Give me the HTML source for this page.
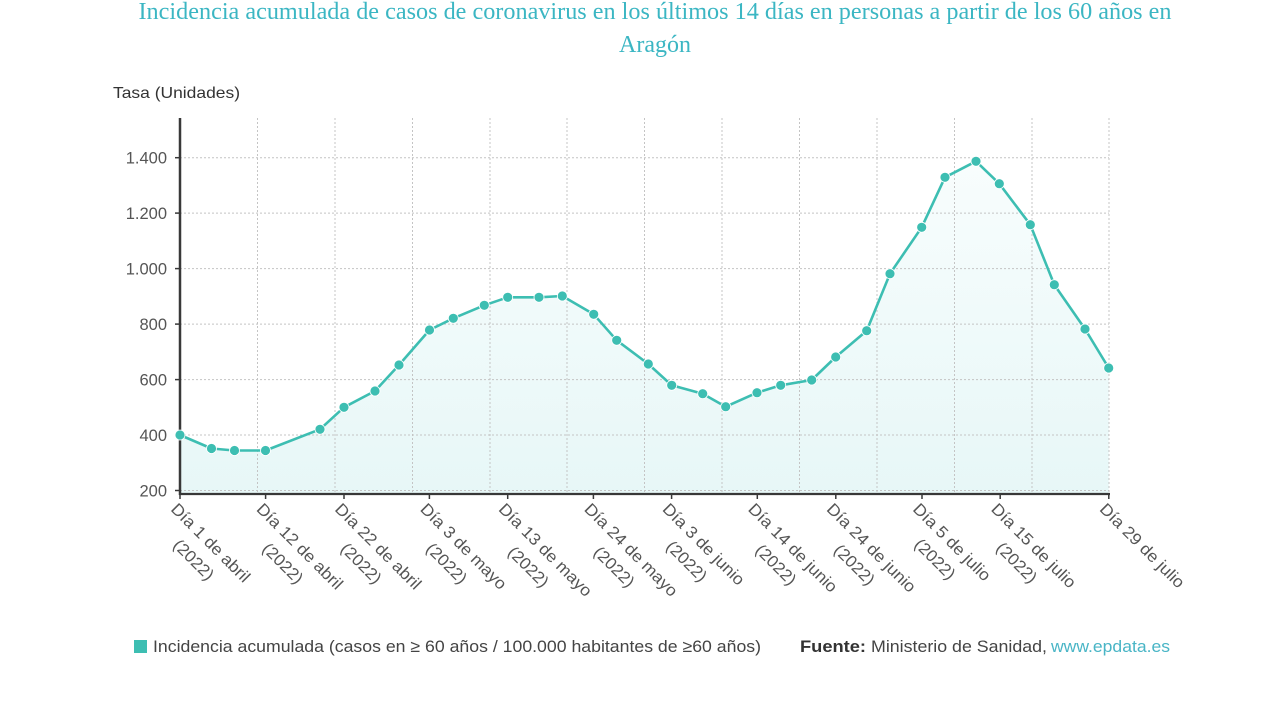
<!DOCTYPE html>
<html>
<head>
<meta charset="utf-8">
<style>
  html,body{margin:0;padding:0;background:#fff;}
  svg{display:block;}
  text{font-family:"Liberation Sans",Arial,sans-serif;}
</style>
</head>
<body>
<svg width="1280" height="720" viewBox="0 0 1280 720" xmlns="http://www.w3.org/2000/svg">
  <defs>
    <linearGradient id="ag" gradientUnits="userSpaceOnUse" x1="0" y1="160" x2="0" y2="494">
      <stop offset="0" stop-color="#f8fdfd"/>
      <stop offset="1" stop-color="#e7f7f7"/>
    </linearGradient>
  </defs>
  <rect width="1280" height="720" fill="#fff"/>

  <!-- Title -->
  <text x="655" y="19" text-anchor="middle" font-size="24" fill="#3bb6c3" textLength="1033" lengthAdjust="spacingAndGlyphs" style="font-family:'Liberation Serif',serif">Incidencia acumulada de casos de coronavirus en los últimos 14 días en personas a partir de los 60 años en</text>
  <text x="655" y="52" text-anchor="middle" font-size="24" fill="#3bb6c3" textLength="72" lengthAdjust="spacingAndGlyphs" style="font-family:'Liberation Serif',serif">Aragón</text>

  <!-- Axis title -->
  <text x="113" y="98" font-size="16" fill="#333" textLength="127" lengthAdjust="spacingAndGlyphs">Tasa (Unidades)</text>

  <!-- Area fill -->
  <polygon fill="url(#ag)" points="180,494 180,435 211.5,448.5 234.5,450.5 265.5,450.5 320,429.3 344,407.3 375,391 399,365 429.5,330 453.3,318.3 484.3,305.3 507.7,297.3 539,297.3 562.3,296 593.7,314.3 616.7,340.3 648.3,364 671.7,385.3 702.7,393.7 725.7,406.7 757,392.7 780.7,385.3 811.7,380 835.7,357 866.7,330.7 890,273.7 921.7,227.3 945,177.3 976,161.3 999.3,183.7 1030.3,224.7 1054.3,284.7 1085,329 1108.7,368 1108.7,494"/>

  <!-- Grid -->
  <g stroke="#c4c4c4" stroke-width="1" stroke-dasharray="2,2" fill="none">
    <line x1="180" y1="490.5" x2="1109" y2="490.5"/>
    <line x1="180" y1="435" x2="1109" y2="435"/>
    <line x1="180" y1="379.6" x2="1109" y2="379.6"/>
    <line x1="180" y1="324.1" x2="1109" y2="324.1"/>
    <line x1="180" y1="268.6" x2="1109" y2="268.6"/>
    <line x1="180" y1="213.1" x2="1109" y2="213.1"/>
    <line x1="180" y1="157.7" x2="1109" y2="157.7"/>
    <line x1="257.5" y1="118" x2="257.5" y2="493"/>
    <line x1="335" y1="118" x2="335" y2="493"/>
    <line x1="412.5" y1="118" x2="412.5" y2="493"/>
    <line x1="490" y1="118" x2="490" y2="493"/>
    <line x1="567" y1="118" x2="567" y2="493"/>
    <line x1="644.5" y1="118" x2="644.5" y2="493"/>
    <line x1="722" y1="118" x2="722" y2="493"/>
    <line x1="799.5" y1="118" x2="799.5" y2="493"/>
    <line x1="877" y1="118" x2="877" y2="493"/>
    <line x1="954.5" y1="118" x2="954.5" y2="493"/>
    <line x1="1032" y1="118" x2="1032" y2="493"/>
    <line x1="1109" y1="118" x2="1109" y2="493"/>
  </g>

  <!-- Axes -->
  <line x1="180" y1="118" x2="180" y2="495" stroke="#383838" stroke-width="2.5"/>
  <line x1="179" y1="494" x2="1110" y2="494" stroke="#383838" stroke-width="2.2"/>
  <g stroke="#383838" stroke-width="1.5">
    <line x1="175" y1="490.5" x2="180" y2="490.5"/>
    <line x1="175" y1="435" x2="180" y2="435"/>
    <line x1="175" y1="379.6" x2="180" y2="379.6"/>
    <line x1="175" y1="324.1" x2="180" y2="324.1"/>
    <line x1="175" y1="268.6" x2="180" y2="268.6"/>
    <line x1="175" y1="213.1" x2="180" y2="213.1"/>
    <line x1="175" y1="157.7" x2="180" y2="157.7"/>
    <line x1="180" y1="494" x2="180" y2="499"/>
    <line x1="265.6" y1="494" x2="265.6" y2="499"/>
    <line x1="344" y1="494" x2="344" y2="499"/>
    <line x1="429.4" y1="494" x2="429.4" y2="499"/>
    <line x1="507.7" y1="494" x2="507.7" y2="499"/>
    <line x1="593.4" y1="494" x2="593.4" y2="499"/>
    <line x1="671.6" y1="494" x2="671.6" y2="499"/>
    <line x1="757.3" y1="494" x2="757.3" y2="499"/>
    <line x1="835.8" y1="494" x2="835.8" y2="499"/>
    <line x1="922" y1="494" x2="922" y2="499"/>
    <line x1="1000.2" y1="494" x2="1000.2" y2="499"/>
    <line x1="1108.8" y1="494" x2="1108.8" y2="499"/>
  </g>

  <!-- Y labels -->
  <g font-size="16.5" fill="#555" text-anchor="end">
    <text x="167" y="496.5">200</text>
    <text x="167" y="441">400</text>
    <text x="167" y="385.6">600</text>
    <text x="167" y="330.1">800</text>
    <text x="167" y="274.6">1.000</text>
    <text x="167" y="219.1">1.200</text>
    <text x="167" y="163.7">1.400</text>
  </g>

  <!-- X labels -->
  <g font-size="16.5" fill="#555" text-anchor="middle">
    <g transform="translate(170,510) rotate(45)">
      <text x="52" y="0" textLength="104" lengthAdjust="spacingAndGlyphs">Día 1 de abril</text>
      <text x="52" y="24" textLength="50" lengthAdjust="spacingAndGlyphs">(2022)</text>
    </g>
    <g transform="translate(255.6,510) rotate(45)">
      <text x="57" y="0" textLength="114" lengthAdjust="spacingAndGlyphs">Día 12 de abril</text>
      <text x="57" y="24" textLength="50" lengthAdjust="spacingAndGlyphs">(2022)</text>
    </g>
    <g transform="translate(334,510) rotate(45)">
      <text x="57" y="0" textLength="114" lengthAdjust="spacingAndGlyphs">Día 22 de abril</text>
      <text x="57" y="24" textLength="50" lengthAdjust="spacingAndGlyphs">(2022)</text>
    </g>
    <g transform="translate(419.4,510) rotate(45)">
      <text x="57" y="0" textLength="114" lengthAdjust="spacingAndGlyphs">Día 3 de mayo</text>
      <text x="57" y="24" textLength="50" lengthAdjust="spacingAndGlyphs">(2022)</text>
    </g>
    <g transform="translate(497.7,510) rotate(45)">
      <text x="62" y="0" textLength="124" lengthAdjust="spacingAndGlyphs">Día 13 de mayo</text>
      <text x="62" y="24" textLength="50" lengthAdjust="spacingAndGlyphs">(2022)</text>
    </g>
    <g transform="translate(583.4,510) rotate(45)">
      <text x="62" y="0" textLength="124" lengthAdjust="spacingAndGlyphs">Día 24 de mayo</text>
      <text x="62" y="24" textLength="50" lengthAdjust="spacingAndGlyphs">(2022)</text>
    </g>
    <g transform="translate(661.6,510) rotate(45)">
      <text x="54" y="0" textLength="108" lengthAdjust="spacingAndGlyphs">Día 3 de junio</text>
      <text x="54" y="24" textLength="50" lengthAdjust="spacingAndGlyphs">(2022)</text>
    </g>
    <g transform="translate(747.3,510) rotate(45)">
      <text x="59" y="0" textLength="118" lengthAdjust="spacingAndGlyphs">Día 14 de junio</text>
      <text x="59" y="24" textLength="50" lengthAdjust="spacingAndGlyphs">(2022)</text>
    </g>
    <g transform="translate(825.8,510) rotate(45)">
      <text x="59" y="0" textLength="118" lengthAdjust="spacingAndGlyphs">Día 24 de junio</text>
      <text x="59" y="24" textLength="50" lengthAdjust="spacingAndGlyphs">(2022)</text>
    </g>
    <g transform="translate(912,510) rotate(45)">
      <text x="51" y="0" textLength="102" lengthAdjust="spacingAndGlyphs">Día 5 de julio</text>
      <text x="51" y="24" textLength="50" lengthAdjust="spacingAndGlyphs">(2022)</text>
    </g>
    <g transform="translate(990.2,510) rotate(45)">
      <text x="56" y="0" textLength="112" lengthAdjust="spacingAndGlyphs">Día 15 de julio</text>
      <text x="56" y="24" textLength="50" lengthAdjust="spacingAndGlyphs">(2022)</text>
    </g>
    <g transform="translate(1098.8,510) rotate(45)">
      <text x="56" y="0" textLength="112" lengthAdjust="spacingAndGlyphs">Día 29 de julio</text>
    </g>
  </g>

  <!-- Series line -->
  <polyline fill="none" stroke="#3dbeb2" stroke-width="2.6" stroke-linejoin="round" points="180,435 211.5,448.5 234.5,450.5 265.5,450.5 320,429.3 344,407.3 375,391 399,365 429.5,330 453.3,318.3 484.3,305.3 507.7,297.3 539,297.3 562.3,296 593.7,314.3 616.7,340.3 648.3,364 671.7,385.3 702.7,393.7 725.7,406.7 757,392.7 780.7,385.3 811.7,380 835.7,357 866.7,330.7 890,273.7 921.7,227.3 945,177.3 976,161.3 999.3,183.7 1030.3,224.7 1054.3,284.7 1085,329 1108.7,368"/>
  <g fill="#3dbeb2" stroke="#ffffff" stroke-width="0.8">
    <circle cx="180" cy="435" r="5"/>
    <circle cx="211.5" cy="448.5" r="5"/>
    <circle cx="234.5" cy="450.5" r="5"/>
    <circle cx="265.5" cy="450.5" r="5"/>
    <circle cx="320" cy="429.3" r="5"/>
    <circle cx="344" cy="407.3" r="5"/>
    <circle cx="375" cy="391" r="5"/>
    <circle cx="399" cy="365" r="5"/>
    <circle cx="429.5" cy="330" r="5"/>
    <circle cx="453.3" cy="318.3" r="5"/>
    <circle cx="484.3" cy="305.3" r="5"/>
    <circle cx="507.7" cy="297.3" r="5"/>
    <circle cx="539" cy="297.3" r="5"/>
    <circle cx="562.3" cy="296" r="5"/>
    <circle cx="593.7" cy="314.3" r="5"/>
    <circle cx="616.7" cy="340.3" r="5"/>
    <circle cx="648.3" cy="364" r="5"/>
    <circle cx="671.7" cy="385.3" r="5"/>
    <circle cx="702.7" cy="393.7" r="5"/>
    <circle cx="725.7" cy="406.7" r="5"/>
    <circle cx="757" cy="392.7" r="5"/>
    <circle cx="780.7" cy="385.3" r="5"/>
    <circle cx="811.7" cy="380" r="5"/>
    <circle cx="835.7" cy="357" r="5"/>
    <circle cx="866.7" cy="330.7" r="5"/>
    <circle cx="890" cy="273.7" r="5"/>
    <circle cx="921.7" cy="227.3" r="5"/>
    <circle cx="945" cy="177.3" r="5"/>
    <circle cx="976" cy="161.3" r="5"/>
    <circle cx="999.3" cy="183.7" r="5"/>
    <circle cx="1030.3" cy="224.7" r="5"/>
    <circle cx="1054.3" cy="284.7" r="5"/>
    <circle cx="1085" cy="329" r="5"/>
    <circle cx="1108.7" cy="368" r="5"/>
  </g>

  <!-- Legend -->
  <rect x="134" y="640" width="13" height="13" fill="#3dbeb2"/>
  <text x="153" y="652" font-size="17" fill="#444" textLength="608" lengthAdjust="spacingAndGlyphs">Incidencia acumulada (casos en ≥ 60 años / 100.000 habitantes de ≥60 años)</text>

  <text x="800" y="652" font-size="17" font-weight="bold" fill="#333" textLength="66" lengthAdjust="spacingAndGlyphs">Fuente:</text>
  <text x="871" y="652" font-size="17" fill="#444" textLength="176" lengthAdjust="spacingAndGlyphs">Ministerio de Sanidad,</text>
  <text x="1051" y="652" font-size="17" fill="#49b5c6" textLength="119" lengthAdjust="spacingAndGlyphs">www.epdata.es</text>
</svg>
</body>
</html>
